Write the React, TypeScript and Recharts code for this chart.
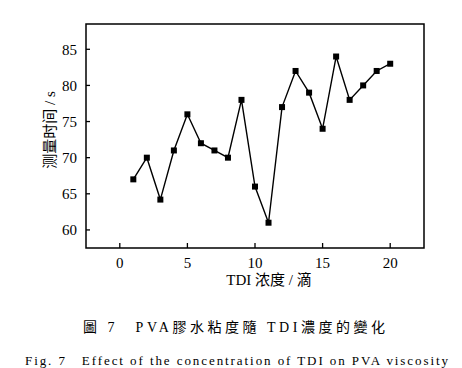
import React from 'react';
import { LineChart, Line, XAxis, YAxis, ReferenceArea } from 'recharts';

const drops = [1, 2, 3, 4, 5, 6, 7, 8, 9, 10, 11, 12, 13, 14, 15, 16, 17, 18, 19, 20];
const times = [67, 70, 64.2, 71, 76, 72, 71, 70, 78, 66, 61, 77, 82, 79, 74, 84, 78, 80, 82, 83];
const xTicks = [0, 5, 10, 15, 20];
const yTicks = [60, 65, 70, 75, 80, 85];

const data = drops.map((d, i) => ({ drop: d, time: times[i] }));

const serif = '"Liberation Serif", "Times New Roman", "Noto Sans CJK SC", serif';

// ticks point into the plot, so draw the small line together with the label
function LeftTick(props: any) {
  const { x, y, payload } = props;
  const axisX = x + 9;
  return (
    <g>
      <line x1={axisX} x2={axisX + 4} y1={y} y2={y} stroke="#000" strokeWidth={1.3} />
      <text x={x} y={y} dy="0.35em" textAnchor="end" fontSize={15} fontFamily={serif} fill="#000">
        {payload.value}
      </text>
    </g>
  );
}

function BottomTick(props: any) {
  const { x, y, payload } = props;
  const axisY = y - 9;
  return (
    <g>
      <line x1={x} x2={x} y1={axisY} y2={axisY - 5} stroke="#000" strokeWidth={1.3} />
      <text x={x} y={y} dy="0.75em" textAnchor="middle" fontSize={15} fontFamily={serif} fill="#000">
        {payload.value}
      </text>
    </g>
  );
}

function SquareDot(props: any) {
  const { cx, cy, index } = props;
  if (cx == null || cy == null) return null;
  return <rect key={`dot-${index}`} x={cx - 3} y={cy - 3} width={6} height={6} fill="#000" />;
}

export default function App() {
  return (
    <div style={{ position: 'absolute', left: 0, top: 0, width: 462, height: 368, background: '#fff' }}>
      <LineChart width={462} height={300} data={data} margin={{ top: 24, right: 38, left: 0, bottom: 22 }}>
        <ReferenceArea x1={-2.5} x2={22.5} y1={57.5} y2={88.5} fill="#fff" fillOpacity={0} stroke="#000" strokeWidth={1.5} ifOverflow="visible" />
        <XAxis
          dataKey="drop"
          type="number"
          domain={[-2.5, 22.5]}
          ticks={xTicks}
          tickLine={false}
          tickSize={0}
          tickMargin={9}
          height={30}
          axisLine={false}
          tick={<BottomTick />}
          label={{ value: 'TDI 浓度 / 滴', position: 'center', dx: 14, dy: 17, fill: '#000', fontSize: 15, fontFamily: serif }}
        />
        <YAxis
          type="number"
          domain={[57.5, 88.5]}
          ticks={yTicks}
          tickLine={false}
          tickSize={0}
          tickMargin={9}
          width={86}
          axisLine={false}
          tick={<LeftTick />}
          label={{ value: '测量时间 / s', angle: -90, position: 'center', dx: 7, dy: -6, fill: '#000', fontSize: 15, fontFamily: serif }}
        />
        <Line
          type="linear"
          dataKey="time"
          stroke="#000"
          strokeWidth={1.4}
          dot={SquareDot}
          activeDot={false}
          isAnimationActive={false}
        />
      </LineChart>
      <svg width={462} height={68} style={{ position: 'absolute', left: 0, top: 300 }}>
        <text x={83} y={32} textLength={302} lengthAdjust="spacing" fontSize={14} fontFamily={serif} fill="#000">
          圖 7　PVA膠水粘度隨 TDI濃度的變化
        </text>
        <text x={25} y={65} textLength={423} lengthAdjust="spacing" fontSize={13} fontFamily={serif} fill="#000">
          Fig. 7　Effect of the concentration of TDI on PVA viscosity
        </text>
      </svg>
    </div>
  );
}
